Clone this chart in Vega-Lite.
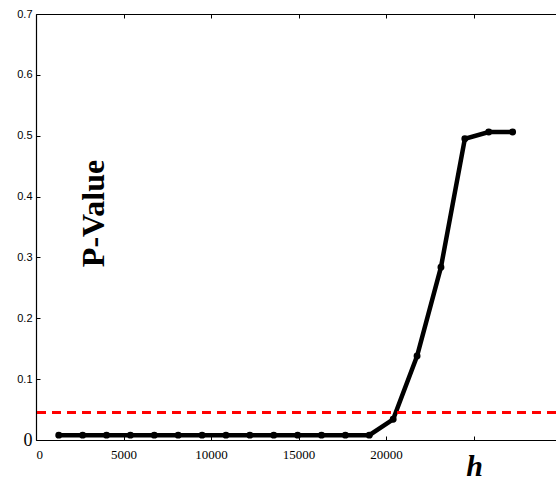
{
  "$schema": "https://vega.github.io/schema/vega-lite/v6.json",
  "autosize": {"type": "none"},
  "padding": {"left": 36, "top": 14, "right": 0, "bottom": 43},
  "width": 520,
  "height": 426,
  "background": "white",
  "config": {"view": {"stroke": null}},
  "data": {"values": [
    {"h": 1300, "p": 0.008}, {"h": 2665, "p": 0.008}, {"h": 4030, "p": 0.008},
    {"h": 5395, "p": 0.008}, {"h": 6760, "p": 0.008}, {"h": 8125, "p": 0.008},
    {"h": 9490, "p": 0.008}, {"h": 10855, "p": 0.008}, {"h": 12220, "p": 0.008},
    {"h": 13585, "p": 0.008}, {"h": 14950, "p": 0.008}, {"h": 16315, "p": 0.008},
    {"h": 17680, "p": 0.008}, {"h": 19045, "p": 0.008}, {"h": 20410, "p": 0.034},
    {"h": 21775, "p": 0.138}, {"h": 23140, "p": 0.284}, {"h": 24505, "p": 0.495},
    {"h": 25870, "p": 0.506}, {"h": 27235, "p": 0.506}
  ]},
  "layer": [
    {
      "mark": {"type": "line", "color": "black", "strokeWidth": 4.5, "point": {"filled": true, "color": "black", "size": 48, "opacity": 1}},
      "encoding": {
        "x": {"field": "h", "type": "quantitative",
          "scale": {"domain": [0, 29714], "nice": false, "zero": false},
          "axis": {"orient": "bottom", "values": [0, 5000, 10000, 15000, 20000, 25000],
            "labelExpr": "datum.value > 20000 ? '' : format(datum.value, 'd')",
            "grid": false, "domainColor": "black", "domainWidth": 1.2, "tickColor": "black", "tickSize": -4,
            "labelPadding": 12, "labelFont": "Liberation Serif", "labelFontSize": 13, "labelColor": "black",
            "title": "h", "titleFont": "Liberation Serif", "titleFontSize": 30, "titleFontStyle": "italic", "titleFontWeight": "bold",
            "titleColor": "black", "titleX": 438, "titleY": 35, "titleBaseline": "alphabetic", "titleAlign": "center"}},
        "y": {"field": "p", "type": "quantitative",
          "scale": {"domain": [0, 0.7], "nice": false},
          "axis": {"values": [0, 0.1, 0.2, 0.3, 0.4, 0.5, 0.6, 0.7],
            "labelExpr": "datum.value == 0 ? '0' : format(datum.value, '.1f')",
            "grid": false, "domainColor": "black", "domainWidth": 1.2, "tickColor": "black", "tickSize": -4,
            "labelPadding": 8, "labelFont": {"condition": {"test": "datum.value == 0", "value": "Liberation Serif"}, "value": "Liberation Sans"},
            "labelFontSize": {"condition": {"test": "datum.value == 0", "value": 18}, "value": 11},
            "labelColor": "black",
            "title": "P-Value", "titleFont": "Liberation Serif", "titleFontSize": 32, "titleFontWeight": "bold", "titleColor": "black",
            "titleAngle": -90, "titleX": 67, "titleY": 199, "titleBaseline": "alphabetic", "titleAlign": "center"}}
      }
    },
    {
      "mark": {"type": "rule", "color": "#ff0000", "strokeWidth": 2.8, "strokeDash": [9, 6]},
      "encoding": {"y": {"datum": 0.045, "type": "quantitative"}}
    },
    {
      "mark": {"type": "point", "opacity": 0},
      "encoding": {
        "x": {"field": "h", "type": "quantitative",
          "axis": {"orient": "top", "values": [0, 5000, 10000, 15000, 20000, 25000], "labels": false, "title": null,
            "grid": false, "domainColor": "black", "domainWidth": 1.2, "tickColor": "black", "tickSize": -4}},
        "y": {"field": "p", "type": "quantitative"}
      }
    }
  ],
  "resolve": {"axis": {"x": "independent"}}
}
